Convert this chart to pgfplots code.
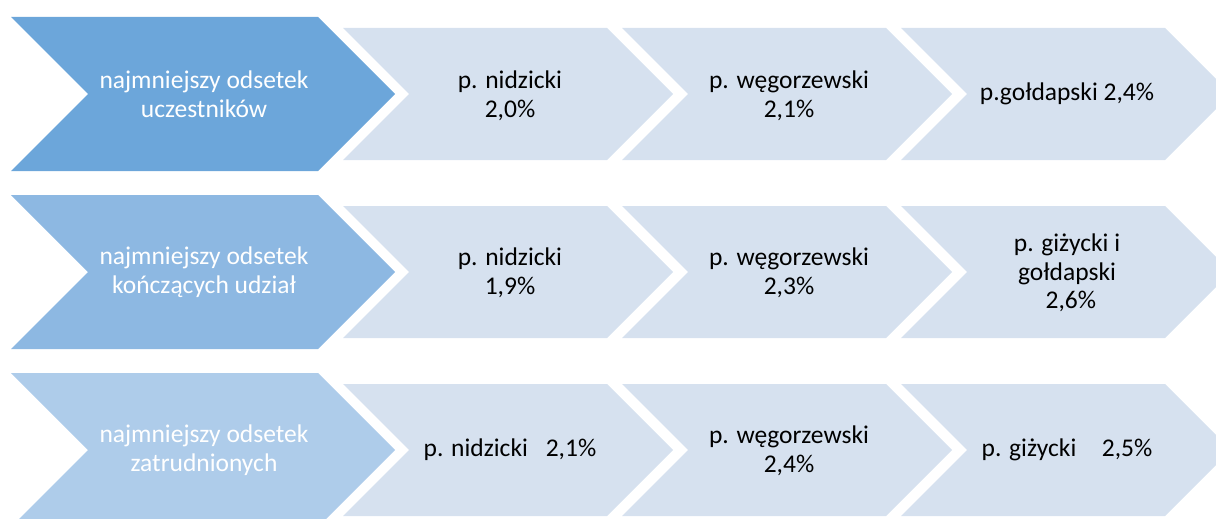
\documentclass[border=0pt]{standalone}
\usepackage{pgfplots}
\pgfplotsset{compat=1.18}
\usepackage{fontspec}
\setmainfont{Carlito}
\definecolor{bigA}{HTML}{6CA6DA}
\definecolor{bigB}{HTML}{8DB8E2}
\definecolor{bigC}{HTML}{AECCEA}
\definecolor{lite}{HTML}{D6E1EF}
\begin{document}
\begin{tikzpicture}
\begin{axis}[x=1pt, y=1pt, xmin=0, xmax=1216, ymin=0, ymax=519, y dir=reverse,
  hide axis, scale only axis, clip=true]
\path (axis cs:0,0) rectangle (axis cs:1216,519);
% big chevrons
\addplot[fill=bigA, draw=none] coordinates {(11,17) (318,17) (395,94) (318,171) (11,171) (88,94)} -- cycle;
\addplot[fill=bigB, draw=none] coordinates {(11,195) (318,195) (395,272) (318,349) (11,349) (88,272)} -- cycle;
\addplot[fill=bigC, draw=none] coordinates {(11,373) (318,373) (395,450) (318,527) (11,527) (88,450)} -- cycle;
% light chevrons row 1
\addplot[fill=lite, draw=none] coordinates {(343,28) (607,28) (673,94) (607,160) (343,160) (409,94)} -- cycle;
\addplot[fill=lite, draw=none] coordinates {(622,28) (886,28) (952,94) (886,160) (622,160) (688,94)} -- cycle;
\addplot[fill=lite, draw=none] coordinates {(901,28) (1165,28) (1231,94) (1165,160) (901,160) (967,94)} -- cycle;
% row 2
\addplot[fill=lite, draw=none] coordinates {(343,206) (607,206) (673,272) (607,338) (343,338) (409,272)} -- cycle;
\addplot[fill=lite, draw=none] coordinates {(622,206) (886,206) (952,272) (886,338) (622,338) (688,272)} -- cycle;
\addplot[fill=lite, draw=none] coordinates {(901,206) (1165,206) (1231,272) (1165,338) (901,338) (967,272)} -- cycle;
% row 3
\addplot[fill=lite, draw=none] coordinates {(343,384) (607,384) (673,450) (607,516) (343,516) (409,450)} -- cycle;
\addplot[fill=lite, draw=none] coordinates {(622,384) (886,384) (952,450) (886,516) (622,516) (688,450)} -- cycle;
\addplot[fill=lite, draw=none] coordinates {(901,384) (1165,384) (1231,450) (1165,516) (901,516) (967,450)} -- cycle;
% texts
\begin{scope}[every node/.style={align=center, font=\fontsize{25.5}{28.5}\selectfont}]
\node[text=white] at (axis cs:204,94) {najmniejszy odsetek\\uczestników};
\node[text=white] at (axis cs:204,272) {najmniejszy odsetek\\kończących udział};
\node[text=white] at (axis cs:204,450) {najmniejszy odsetek\\zatrudnionych};
\node at (axis cs:510,96) {p. nidzicki\\2,0\%};
\node at (axis cs:789,96) {p. węgorzewski\\2,1\%};
\node at (axis cs:1067,94) {p.gołdapski 2,4\%};
\node at (axis cs:510,273) {p. nidzicki\\1,9\%};
\node at (axis cs:789,273) {p. węgorzewski\\2,3\%};
\node at (axis cs:1067,273) {p. giżycki i\\gołdapski\\\hspace{0.3em}2,6\%};
\node at (axis cs:510,450) {p. nidzicki\hspace{0.7em}2,1\%};
\node at (axis cs:789,451) {p. węgorzewski\\2,4\%};
\node at (axis cs:1067,450) {p. giżycki\hspace{1.0em}2,5\%};
\end{scope}
\end{axis}
\end{tikzpicture}
\end{document}
